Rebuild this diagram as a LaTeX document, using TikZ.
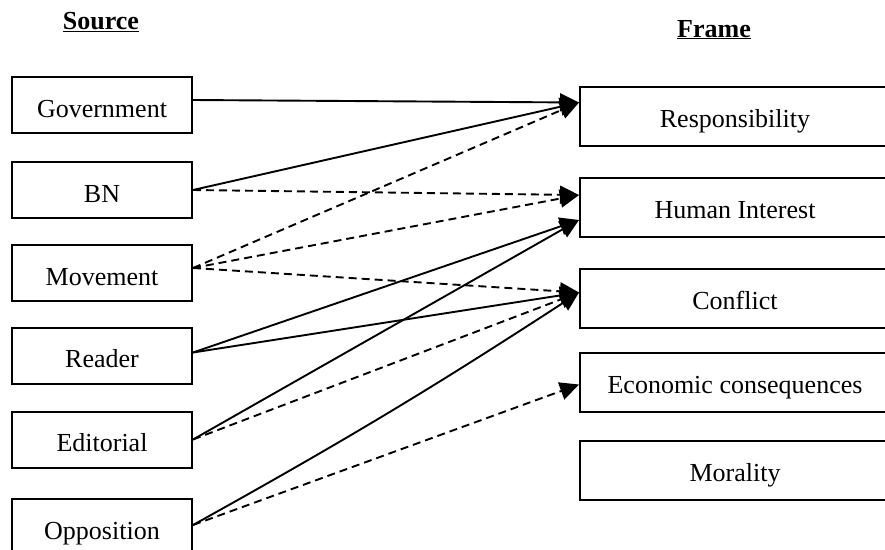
\documentclass[tikz,border=0pt]{standalone}
\usepackage{fontspec}
\setmainfont{Liberation Serif}
\usetikzlibrary{arrows.meta}

\begin{document}
\begin{tikzpicture}[x=1pt, y=-1pt, font=\fontsize{26}{30}\selectfont,
  srcbox/.style={draw, line width=2pt, inner sep=0pt, minimum width=180pt, minimum height=56pt, text height=24pt, text depth=0pt},
  frmbox/.style={draw, line width=2pt, inner sep=0pt, minimum width=310pt, minimum height=59pt, text height=22pt, text depth=0pt},
  link/.style={line width=1.9pt, -{Triangle[length=19pt,width=18pt]}},
  weak/.style={link, dash pattern=on 8pt off 5pt}]
\useasboundingbox (0,0) rectangle (885,549);
% headings
\node[anchor=base, font=\fontsize{26}{30}\selectfont\bfseries] (srchead) at (101,29) {\underline{Source}};
\node[anchor=base, font=\fontsize{26}{30}\selectfont\bfseries] (frmhead) at (714,37) {\underline{Frame}};
% sources
\node[srcbox] (gov) at (102,105) {Government};
\node[srcbox] (bn) at (102,190) {BN};
\node[srcbox] (mov) at (102,273) {Movement};
\node[srcbox] (rdr) at (102,355.5) {Reader};
\node[srcbox] (edt) at (102,439.5) {Editorial};
\node[srcbox] (opp) at (102,527) {Opposition};
% frames
\node[frmbox] (resp) at (735,116.5) {Responsibility};
\node[frmbox] (hum) at (735,207) {Human Interest};
\node[frmbox] (con) at (735,298.5) {Conflict};
\node[frmbox] (eco) at (735,382.5) {Economic consequences};
\node[frmbox] (mor) at (735,470) {Morality};
% connectors
\draw[link] ([yshift=5pt]gov.east) -- ([yshift=14pt]resp.west);
\draw[link] (bn.east) -- ([yshift=14pt]resp.west);
\draw[weak] ([yshift=5pt]mov.east) -- ([yshift=14pt]resp.west);
\draw[weak] (bn.east) -- ([yshift=12pt]hum.west);
\draw[weak] ([yshift=5pt]mov.east) -- ([yshift=12pt]hum.west);
\draw[link] ([yshift=3pt]rdr.east) -- ([yshift=-13pt]hum.west);
\draw[link] (edt.east) -- ([yshift=-13pt]hum.west);
\draw[weak] ([yshift=5pt]mov.east) -- ([yshift=6pt]con.west);
\draw[link] ([yshift=3pt]rdr.east) -- ([yshift=6pt]con.west);
\draw[weak] (edt.east) -- ([yshift=6pt]con.west);
\draw[link] ([yshift=2pt]opp.east) to[bend right=2] ([yshift=6pt]con.west);
\draw[weak] ([yshift=2pt]opp.east) -- ([yshift=-2pt]eco.west);
\end{tikzpicture}
\end{document}
